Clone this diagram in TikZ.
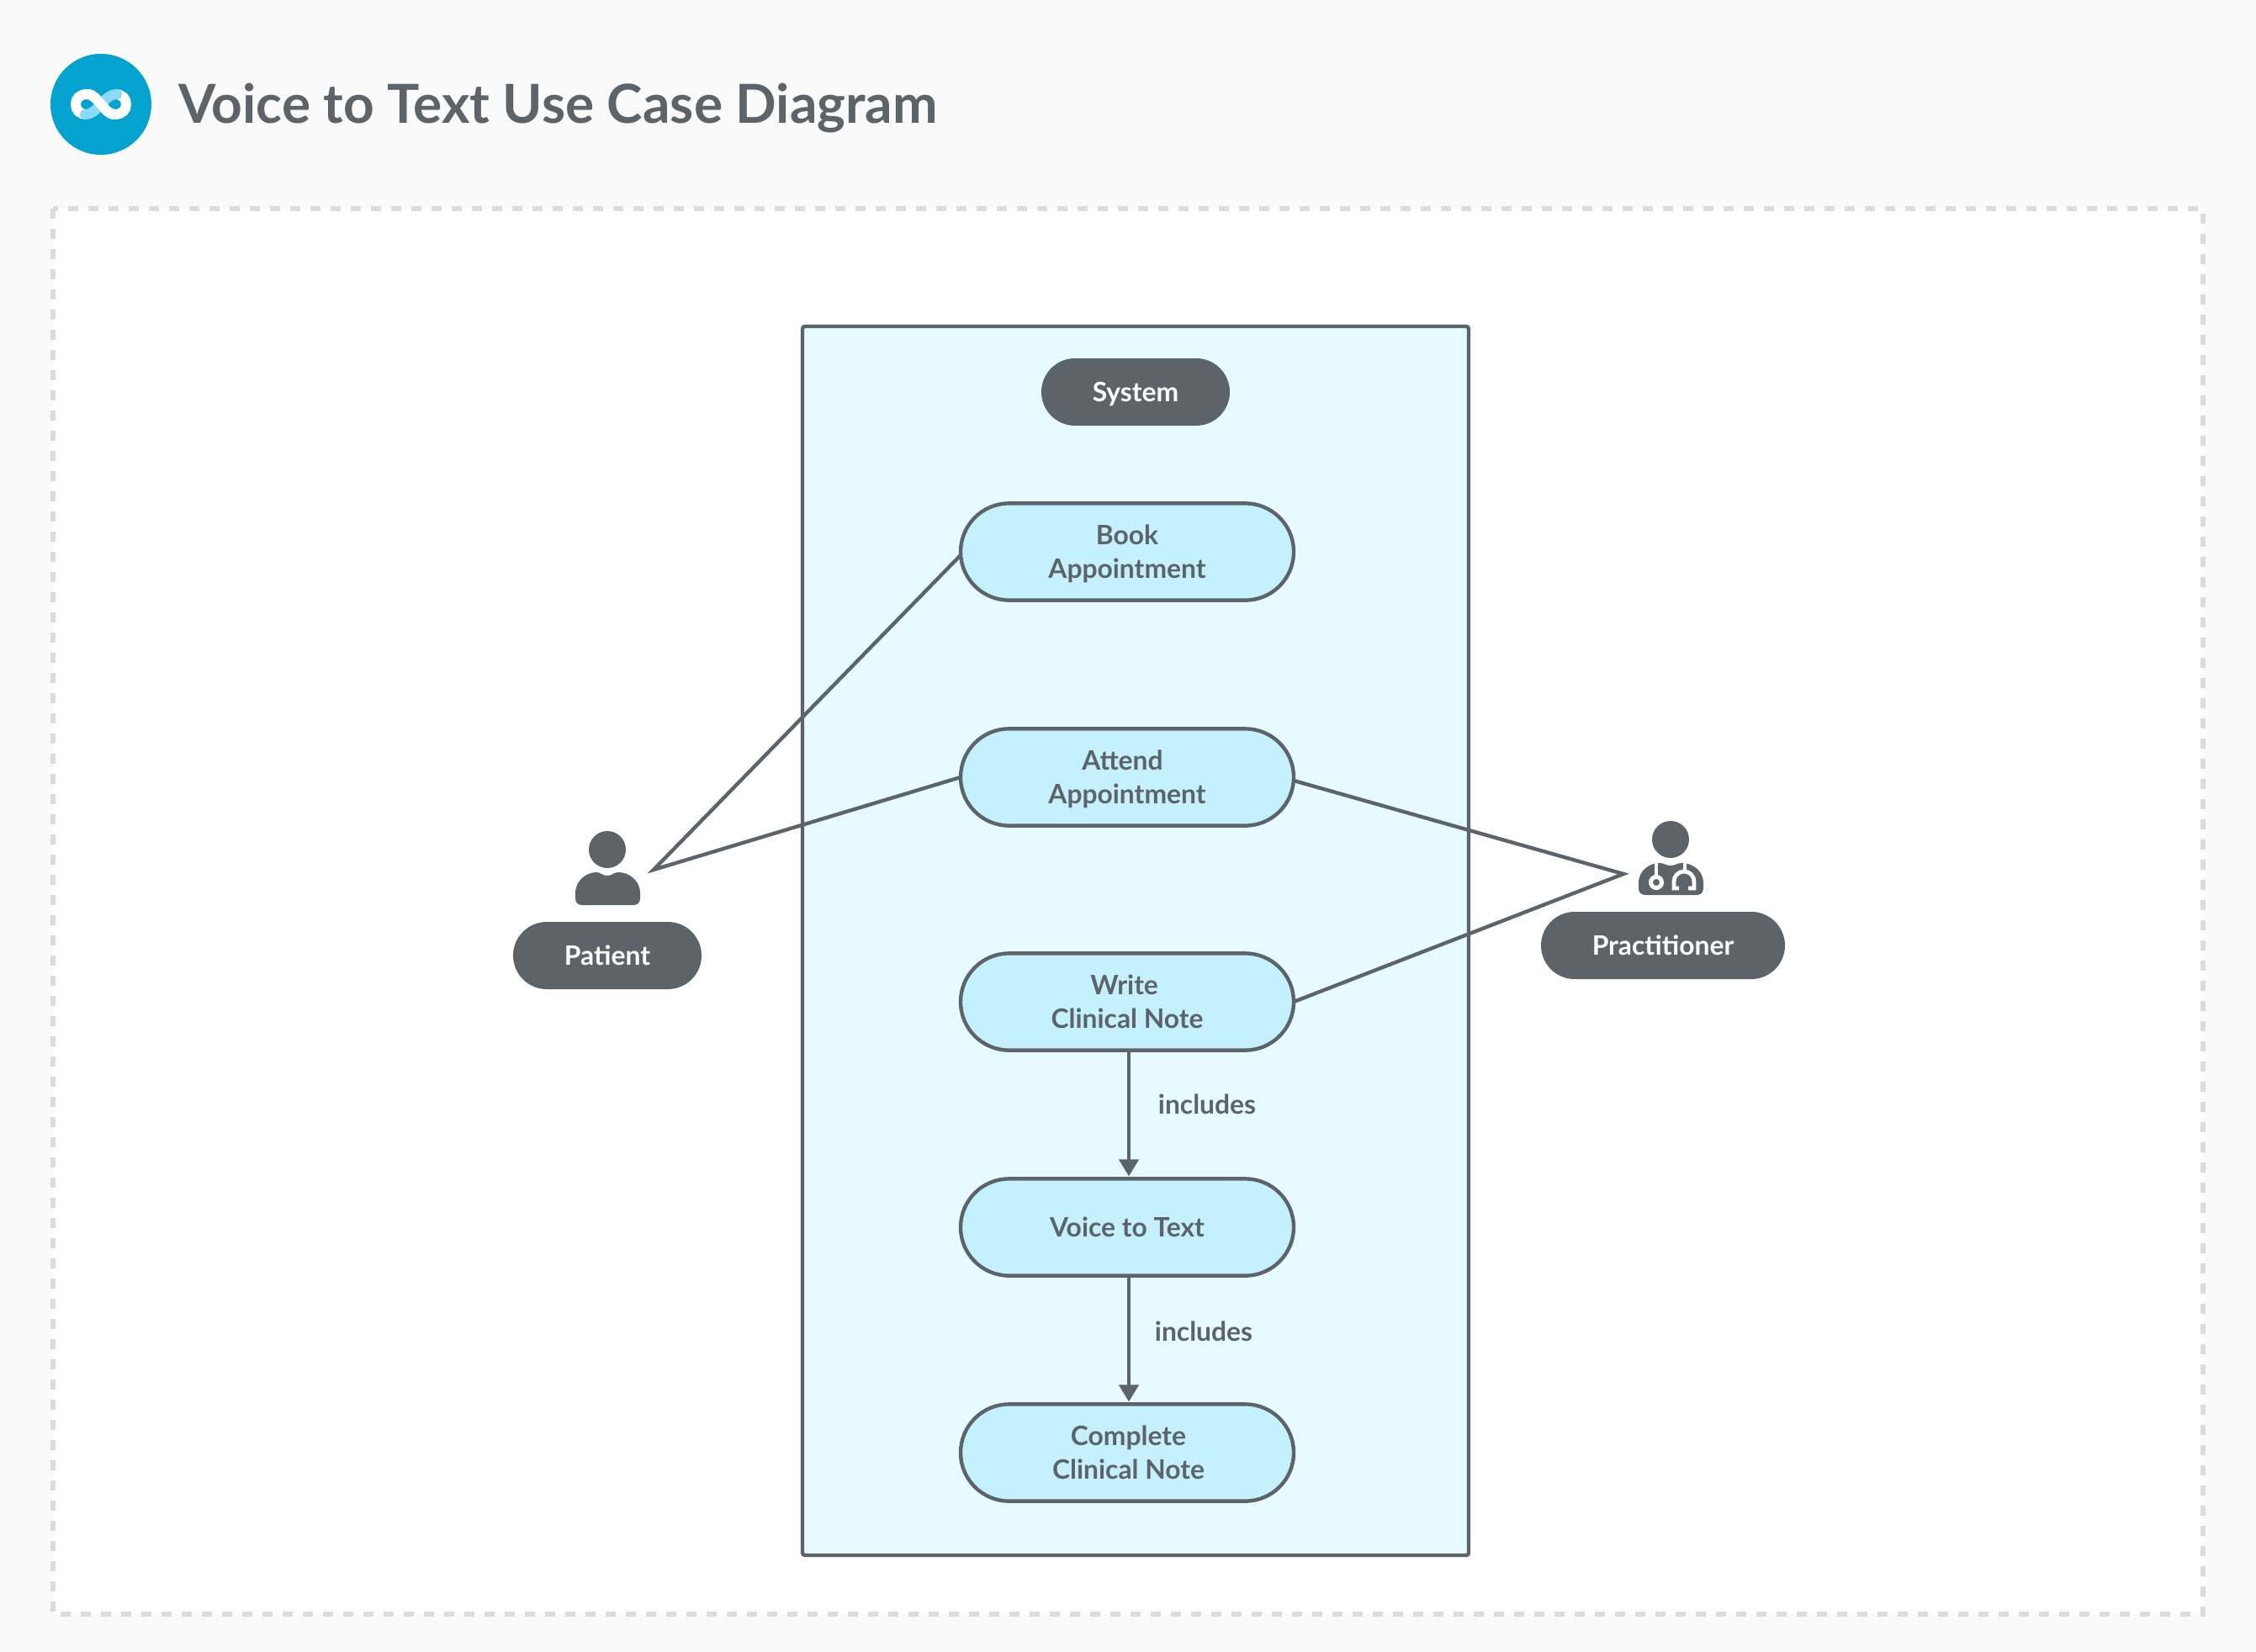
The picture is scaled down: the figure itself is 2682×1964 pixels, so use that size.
\documentclass[tikz,border=0pt]{standalone}
\usepackage{fontspec}
\setmainfont{Lato Bold}[Ligatures=TeX]
\usetikzlibrary{shapes.misc,arrows.meta}
\definecolor{ink}{HTML}{5C6469}
\definecolor{pagebg}{HTML}{FAFAFA}
\definecolor{dashgrey}{HTML}{DCDCDC}
\definecolor{sysfill}{HTML}{E7FAFF}
\definecolor{casefill}{HTML}{C5F1FF}
\definecolor{logoblue}{HTML}{04A2CF}
\definecolor{logolight}{HTML}{8CDBF4}
\newcommand\lbl[1]{\raisebox{-1.8pt}[\height][\depth]{\begin{tabular}{@{}c@{}}#1\end{tabular}}}
\tikzset{
  labelfont/.style={font=\fontsize{15.9}{19.8}\selectfont},
  usecase/.style={rounded rectangle,draw=ink,line width=2.2pt,fill=casefill,minimum width=198pt,minimum height=57.6pt,inner sep=0pt,outer sep=0pt,text=ink,labelfont},
  tag/.style={rounded rectangle,fill=ink,minimum height=40pt,inner sep=0pt,outer sep=0pt,text=white,labelfont},
  edgelabel/.style={text=ink,labelfont,inner sep=0pt},
  link/.style={draw=ink,line width=2.2pt},
  incl/.style={link,shorten >=1.5pt,-{Triangle[width=11.5pt,length=10pt]}},
}
\begin{document}
\begin{tikzpicture}[x=0.5pt,y=-0.5pt]
\useasboundingbox (0,0) rectangle (2682,1964);
\fill[pagebg] (0,0) rectangle (2682,1964);
% panel
\draw[dashgrey,fill=white,line width=3pt,dash pattern=on 6pt off 6pt] (63,248) rectangle (2619,1919);
% logo
\fill[logoblue] (120,124) circle[radius=60];
\draw[white,line width=6pt] (103,136) .. controls (95,136) and (90,131) .. (90,124) .. controls (90,117) and (95,112) .. (103,112) .. controls (112,112) and (116,120) .. (120,124) .. controls (124,128) and (128,136) .. (137,136) .. controls (145,136) and (150,131) .. (150,124) .. controls (150,117) and (145,112) .. (137,112);
\draw[logolight,line width=6pt,line cap=round] (101,136) .. controls (110,136) and (114,130) .. (120,124) .. controls (126,118) and (130,112) .. (139,112);
\draw[white,line width=6pt] (103,112) .. controls (112,112) and (116,120) .. (120,124) .. controls (124,128) and (128,136) .. (137,136);
\node[anchor=base west,inner sep=0pt,text=ink,font=\fontsize{32}{38}\selectfont] (title) at (212,146.5) {Voice to Text Use Case Diagram};
% system
\draw[ink,fill=sysfill,line width=2.2pt,rounded corners=1.5pt] (954,388) rectangle (1746,1849);
\node[tag,minimum width=112pt] (system) at (1350,466) {\lbl{System}};
\node[usecase] (book) at (1340,656) {\lbl{Book\\Appointment}};
\node[usecase] (attend) at (1340,924) {\lbl{Attend\hspace*{5.5pt}\\Appointment}};
\node[usecase] (write) at (1340,1191) {\lbl{Write\hspace*{3.4pt}\\Clinical Note}};
\node[usecase] (voice) at (1340,1459) {\lbl{Voice to Text}};
\node[usecase] (complete) at (1340,1727) {\lbl{\hspace*{1.5pt}Complete\\\hspace*{1.5pt}Clinical Note}};
% actors
\node[tag,minimum width=112pt] (patient) at (722,1136) {\lbl{Patient}};
\node[tag,minimum width=145pt] (practitioner) at (1977,1124) {\lbl{Practitioner}};
\fill[ink] (722,1010) circle[radius=22];
\fill[ink] (684,1068) -- (684,1062) .. controls (684,1046) and (698,1037) .. (709,1037) .. controls (714,1037) and (716,1041) .. (722,1041) .. controls (728,1041) and (730,1037) .. (735,1037) .. controls (747,1037) and (761,1046) .. (761,1062) -- (761,1068) .. controls (761,1073) and (758,1076) .. (753,1076) -- (692,1076) .. controls (687,1076) and (684,1073) .. (684,1068) -- cycle;
\fill[ink] (1986,998) circle[radius=22];
\fill[ink] (1948,1056) -- (1948,1050) .. controls (1948,1034) and (1962,1026) .. (1973,1026) .. controls (1978,1026) and (1980,1029) .. (1986,1029) .. controls (1992,1029) and (1994,1026) .. (1999,1026) .. controls (2011,1026) and (2025,1034) .. (2025,1050) -- (2025,1056) .. controls (2025,1061) and (2022,1064) .. (2017,1064) -- (1956,1064) .. controls (1951,1064) and (1948,1061) .. (1948,1056) -- cycle;
\draw[white,line width=2.4pt] (1969,1026) -- (1969,1042);
\draw[white,line width=2.5pt] (1969,1049) circle[radius=6.5];
\draw[white,line width=2.4pt] (2003,1026) -- (2003,1036);
\draw[white,line width=2.4pt] (1996,1056) -- (1990,1056) -- (1990,1048) arc[start angle=180,end angle=360,radius=12] -- (2014,1056) -- (2007,1056);
% connectors
\coordinate (patientend) at (777,1034);
\coordinate (practend) at (1930,1039);
\draw[link] ([yshift=-2pt]book.west) -- (patientend) -- (attend.west);
\draw[link] ([yshift=-2pt]attend.east) -- (practend) -- (write.east);
\draw[incl] ([xshift=1pt]write.south) -- ([xshift=1pt]voice.north);
\draw[incl] ([xshift=1pt]voice.south) -- ([xshift=1pt]complete.north);
\node[edgelabel] (inclA) at (1435,1313) {\lbl{includes}};
\node[edgelabel] (inclB) at (1431,1583) {\lbl{includes}};
\end{tikzpicture}
\end{document}
